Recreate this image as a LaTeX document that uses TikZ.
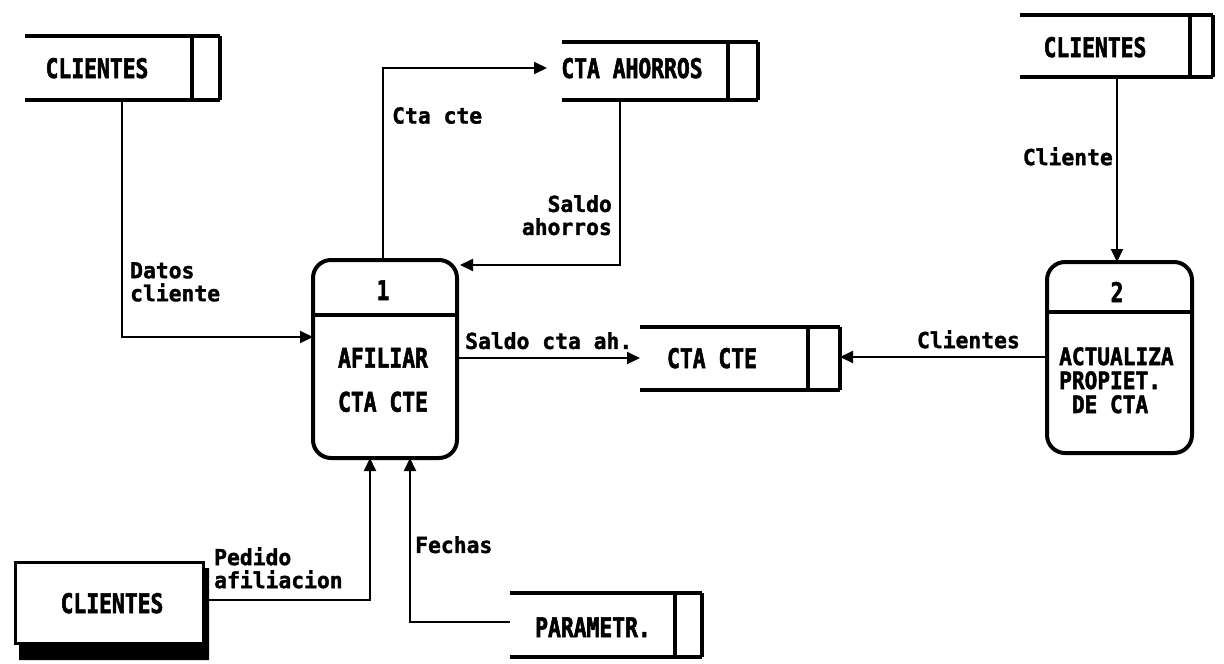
\documentclass[tikz,border=0pt]{standalone}
\usepackage{fontspec}
\usetikzlibrary{arrows.meta}
\newfontfamily\dfont[FakeStretch=0.79,FakeBold=2]{DejaVu Sans Mono Bold}
\newfontfamily\pfont[FakeStretch=0.88,FakeBold=2]{DejaVu Sans Mono Bold}
\newfontfamily\lfont[FakeStretch=0.97,FakeBold=1.5]{DejaVu Sans Mono Bold}
\begin{document}
\begin{tikzpicture}[x=1pt,y=-1pt,
  storeline/.style={line width=4pt},
  procbox/.style={draw,line width=4pt,rounded corners=18pt},
  conn/.style={line width=2pt,-{Triangle[length=13pt,width=12pt]}},
  stxt/.style={font=\dfont\fontsize{27}{27}\selectfont,inner sep=0pt,text height=20pt,text depth=0pt},
  ptxt/.style={font=\pfont\fontsize{24}{24}\selectfont,inner sep=0pt,align=left},
  lbl/.style={font=\lfont\fontsize{22}{23}\selectfont,inner sep=0pt}]
\useasboundingbox (0,0) rectangle (1224,664);

% ---- stores
\newcommand{\dstore}[6]{% name, left, inner, right, top, bottom
  \draw[storeline] (#2,#5) -- (#4,#5) (#2,#6) -- (#4,#6);
  \draw[storeline] (#3,#5) -- (#3,#6) (#4,#5) -- (#4,#6);
  \coordinate (#1-nw) at (#2,#5);
  \coordinate (#1-se) at (#4,#6);
}
\dstore{cl1}{25}{192}{220}{36}{100}
\node[stxt] (cl1) at (97,68) {CLIENTES};
\dstore{cl2}{1020}{1190}{1213}{15}{77}
\node[stxt] (cl2) at (1095,47) {CLIENTES};
\dstore{aho}{562}{728}{758}{42}{100}
\node[stxt] (aho) at (632,68) {CTA AHORROS};
\dstore{cte}{640}{808}{840}{327}{390}
\node[stxt] (cte) at (712,358) {CTA CTE};
\dstore{par}{510}{675}{702}{593}{657}
\node[stxt] (par) at (593,627) {PARAMETR.};

% ---- external entity with shadow
\fill (203,568) -- (209,568) -- (209,660) -- (19,660) -- (19,643) -- (203,643) -- cycle;
\draw[line width=3pt] (15,562) rectangle (203,643);
\node[stxt] (cl3) at (112,603) {CLIENTES};
\coordinate (cl3r) at (203,600);

% ---- processes
\draw[procbox] (313,260) rectangle (457,458);
\draw[line width=4pt] (313,315) -- (457,315);
\node[stxt] (n1) at (383,290) {1};
\node[ptxt,align=center,font=\dfont\fontsize{27}{44}\selectfont] (p1) at (383,380) {AFILIAR\\CTA CTE};
\coordinate (p1n) at (383,260);
\coordinate (p1w) at (313,337);
\coordinate (p1e) at (457,358);
\coordinate (p1ne) at (460,265);
\coordinate (p1s1) at (370,458);
\coordinate (p1s2) at (410,458);

\draw[procbox] (1047,262) rectangle (1192,453);
\draw[line width=4pt] (1047,312) -- (1192,312);
\node[stxt] (n2) at (1117,292) {2};
\node[ptxt,anchor=north west] (p2) at (1059,347) {ACTUALIZA\\PROPIET.\\\phantom{A}DE CTA};
\coordinate (p2n) at (1117,262);
\coordinate (p2w) at (1047,357);

% ---- connectors
\coordinate (cte-in) at (640,358);
\coordinate (cte-out) at (840,357);
\coordinate (aho-in) at (547,68);
\coordinate (aho-out) at (620,100);
\coordinate (cl1-out) at (122,100);
\coordinate (cl2-out) at (1117,77);
\coordinate (par-out) at (510,622);

\draw[conn] (cl1-out) |- (p1w);
\draw[conn] (p1n) |- (aho-in);
\draw[conn] (aho-out) |- (p1ne);
\draw[conn] (p1e) -- (cte-in);
\draw[conn] (p2w) -- (cte-out);
\draw[conn] (cl2-out) -- (p2n);
\draw[conn] (cl3r) -| (p1s1);
\draw[conn] (par-out) -| (p1s2);

% ---- labels
\node[lbl,align=left,anchor=north west] (l1) at (130,262) {Datos\\cliente};
\node[lbl,anchor=north west] (l2) at (392,107) {Cta cte};
\node[lbl,align=right,anchor=north east] (l3) at (612,195) {Saldo\\ahorros};
\node[lbl,anchor=north west] (l4) at (465,332) {Saldo cta ah.};
\node[lbl,anchor=north east] (l5) at (1020,330) {Clientes};
\node[lbl,anchor=north east] (l6) at (1113,147) {Cliente};
\node[lbl,align=left,anchor=north west] (l7) at (214,547) {Pedido\\afiliacion};
\node[lbl,anchor=north west] (l8) at (415,536) {Fechas};
\end{tikzpicture}
\end{document}
